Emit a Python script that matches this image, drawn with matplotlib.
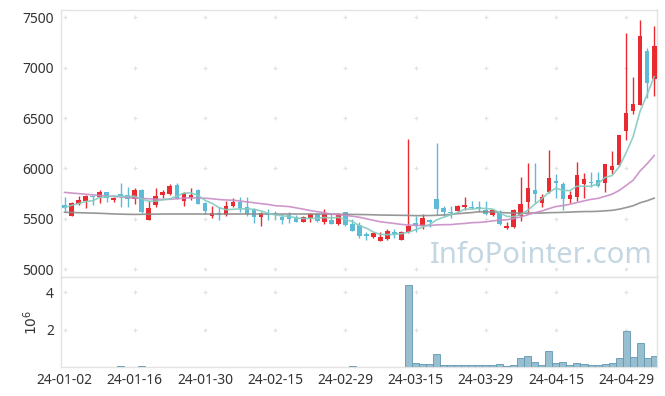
import numpy as np
import pandas as pd
import matplotlib
matplotlib.use("Agg")
import matplotlib.pyplot as plt

plt.rcParams['font.family'] = ['Noto Sans', 'DejaVu Sans']

holidays = ['2024-01-01', '2024-02-09', '2024-02-12', '2024-03-01',
            '2024-04-10', '2024-05-01', '2024-05-06']
dates = pd.bdate_range('2024-01-02', '2024-05-07', freq='C', holidays=holidays)

opens = [5638, 5533, 5651, 5681, 5725, 5717, 5763, 5691, 5743, 5737,
         5697, 5790, 5493, 5641, 5737, 5747, 5836, 5681, 5704, 5786,
         5658, 5526, 5559, 5539, 5632, 5671, 5615, 5599, 5516, 5556,
         5559, 5523, 5539, 5516, 5474, 5513, 5549, 5467, 5493, 5451,
         5566, 5451, 5441, 5352, 5319, 5286, 5302, 5368, 5296, 5375,
         5460, 5434, 5490, 5697, 5605, 5572, 5579, 5622, 5615, 5615,
         5592, 5543, 5559, 5414, 5421, 5533, 5671, 5786, 5658, 5770,
         5875, 5845, 5697, 5720, 5845, 5865, 5885, 5852, 5987, 6033,
         6372, 6569, 6625, 7161, 6891]
highs = [5714, 5665, 5730, 5737, 5730, 5786, 5770, 5720, 5855, 5812,
         5803, 5795, 5674, 5803, 5786, 5842, 5855, 5770, 5803, 5795,
         5665, 5625, 5615, 5680, 5704, 5714, 5714, 5605, 5566, 5599,
         5582, 5549, 5572, 5539, 5533, 5556, 5559, 5599, 5549, 5556,
         5572, 5500, 5467, 5369, 5375, 5369, 5398, 5398, 5385, 6296,
         5533, 5549, 5500, 6250, 5632, 5632, 5638, 5714, 5681, 5681,
         5681, 5599, 5592, 5467, 5599, 5911, 6059, 6059, 5747, 6184,
         5944, 5862, 5780, 6069, 5951, 5970, 5970, 6043, 6171, 6329,
         7342, 6905, 7467, 7194, 7408]
lows = [5566, 5526, 5641, 5605, 5640, 5658, 5665, 5668, 5615, 5615,
        5648, 5560, 5490, 5615, 5704, 5740, 5697, 5625, 5691, 5645,
        5549, 5513, 5487, 5530, 5615, 5566, 5533, 5461, 5428, 5493,
        5500, 5451, 5461, 5467, 5467, 5474, 5467, 5451, 5451, 5444,
        5434, 5378, 5309, 5296, 5309, 5286, 5296, 5309, 5296, 5365,
        5368, 5401, 5424, 5540, 5533, 5507, 5566, 5592, 5599, 5572,
        5539, 5526, 5441, 5401, 5408, 5484, 5566, 5658, 5615, 5753,
        5704, 5592, 5658, 5681, 5704, 5816, 5816, 5770, 5941, 6026,
        6283, 6536, 6625, 6701, 6714]
closes = [5612, 5658, 5688, 5730, 5715, 5770, 5711, 5707, 5724, 5697,
          5790, 5566, 5605, 5724, 5770, 5829, 5704, 5753, 5737, 5651,
          5579, 5556, 5539, 5632, 5671, 5605, 5549, 5516, 5559, 5543,
          5539, 5493, 5500, 5474, 5516, 5549, 5484, 5549, 5451, 5549,
          5441, 5385, 5335, 5335, 5358, 5319, 5378, 5348, 5368, 5434,
          5440, 5507, 5474, 5599, 5566, 5556, 5625, 5638, 5605, 5602,
          5549, 5592, 5451, 5434, 5592, 5648, 5806, 5747, 5714, 5901,
          5855, 5697, 5737, 5934, 5895, 5855, 5829, 6043, 6026, 6329,
          6546, 6635, 7309, 6849, 7210]
volumes_m = [0.02, 0.02, 0.02, 0.02, 0.02, 0.02, 0.02, 0.02, 0.05, 0.02,
             0.02, 0.05, 0.02, 0.02, 0.02, 0.02, 0.02, 0.02, 0.02, 0.02,
             0.02, 0.02, 0.02, 0.02, 0.02, 0.02, 0.02, 0.02, 0.02, 0.02,
             0.02, 0.02, 0.02, 0.02, 0.02, 0.02, 0.02, 0.02, 0.02, 0.02,
             0.02, 0.05, 0.02, 0.02, 0.02, 0.02, 0.02, 0.02, 0.02, 4.39,
             0.20, 0.14, 0.14, 0.68, 0.09, 0.09, 0.09, 0.09, 0.09, 0.09,
             0.09, 0.09, 0.14, 0.03, 0.09, 0.46, 0.57, 0.25, 0.09, 0.84,
             0.20, 0.25, 0.09, 0.20, 0.14, 0.09, 0.09, 0.14, 0.20, 0.46,
             1.91, 0.52, 1.27, 0.46, 0.57]
# moving-average values before a full window is available
ma20_head = [5763, 5757, 5751, 5745, 5739, 5733, 5728, 5723, 5718, 5713,
             5708, 5704, 5700, 5696, 5693, 5695, 5700, 5706, 5710]
ma60_head = [5566, 5564, 5562, 5560, 5558, 5556, 5553, 5550, 5548, 5546,
             5545, 5546, 5547, 5548, 5549, 5549, 5549, 5549, 5549, 5549,
             5549, 5549, 5549, 5549, 5549, 5549, 5549, 5549, 5549, 5549,
             5549, 5549, 5549, 5549, 5549, 5549, 5549, 5549, 5548, 5547,
             5546, 5545, 5544, 5543, 5541, 5539, 5538, 5537, 5536, 5535,
             5533, 5533, 5534, 5536, 5539, 5545, 5552, 5558, 5563]
xtick_labels = ['24-01-02', '24-01-16', '24-01-30', '24-02-15', '24-02-29',
                '24-03-15', '24-03-29', '24-04-15', '24-04-29']

df = pd.DataFrame({'open': opens, 'high': highs, 'low': lows,
                   'close': closes, 'vol': volumes_m}, index=dates)
n = len(df)
x = np.arange(n)
ma5 = df['close'].rolling(5, min_periods=1).mean().values
ma20 = df['close'].rolling(20).mean().values
ma20[:len(ma20_head)] = ma20_head
ma60 = df['close'].rolling(60).mean().values
ma60[:len(ma60_head)] = ma60_head

up_c = '#ea2a31'
dn_c = '#5dbbd6'
grid_c = '#e2e2e2'
txt_c = '#333333'

fig = plt.figure(figsize=(6.65, 3.96), dpi=100)
ax = fig.add_axes([61/665, 1-277/396, (657-61)/665, (277-10)/396])
ax2 = fig.add_axes([61/665, 1-367/396, (657-61)/665, (367-277)/396], sharex=ax)

o = df['open'].values; c = df['close'].values
h = df['high'].values; l = df['low'].values
up = c >= o
colors = np.where(up, up_c, dn_c)
ax.vlines(x, l, h, colors=colors, linewidth=1.0, zorder=3)
ax.bar(x, np.abs(c - o) + 1, bottom=np.minimum(o, c), width=0.66,
       color=colors, edgecolor='none', zorder=3)

ax.plot(x, ma60, color='#8c8c8c', lw=1.2, alpha=0.9, zorder=4)
ax.plot(x, ma20, color='#c98cc6', lw=1.2, alpha=0.9, zorder=4)
ax.plot(x, ma5, color='#85cbc1', lw=1.2, alpha=0.9, zorder=4)

ax.set_ylim(4925, 7570)
ax.set_xlim(-0.5, n - 0.6)
yt = [5000, 5500, 6000, 6500, 7000, 7500]
ax.set_yticks(yt)
ax.set_yticklabels([str(v) for v in yt])

tick_pos = [list(df.index.strftime('%y-%m-%d')).index(t) for t in xtick_labels]
ax.set_xticks(tick_pos)
ax2.set_xticklabels(xtick_labels)
ax.tick_params(axis='x', labelbottom=False)

# grid crosses
for a, ys in ((ax, yt), (ax2, [2, 4])):
    xx, yy = np.meshgrid(tick_pos, ys)
    a.scatter(xx.ravel(), yy.ravel(), marker='+', s=12, color=grid_c,
              linewidths=0.8, zorder=1)

ax.text(0.993, 0.025, 'InfoPointer.com', transform=ax.transAxes, ha='right',
        va='bottom', fontsize=21, color='#c3d6e2', zorder=5)

ax2.bar(x, df['vol'].values, width=1.0, color='#97bfd0',
        edgecolor='#5f98b3', linewidth=0.6, zorder=3)
ax2.set_ylim(0, 4.8)
ax2.set_yticks([2, 4])
ax2.set_yticklabels(['2', '4'])
ax2.set_ylabel(r'$10^6$', color=txt_c, fontsize=10, labelpad=4)

for a in (ax, ax2):
    for s in a.spines.values():
        s.set_color('#e3e3e3')
        s.set_linewidth(1.0)
    a.tick_params(length=0, labelsize=10, colors=txt_c, pad=5)
ax2.tick_params(axis='x', pad=4)

fig.savefig('out.png', dpi=100)
